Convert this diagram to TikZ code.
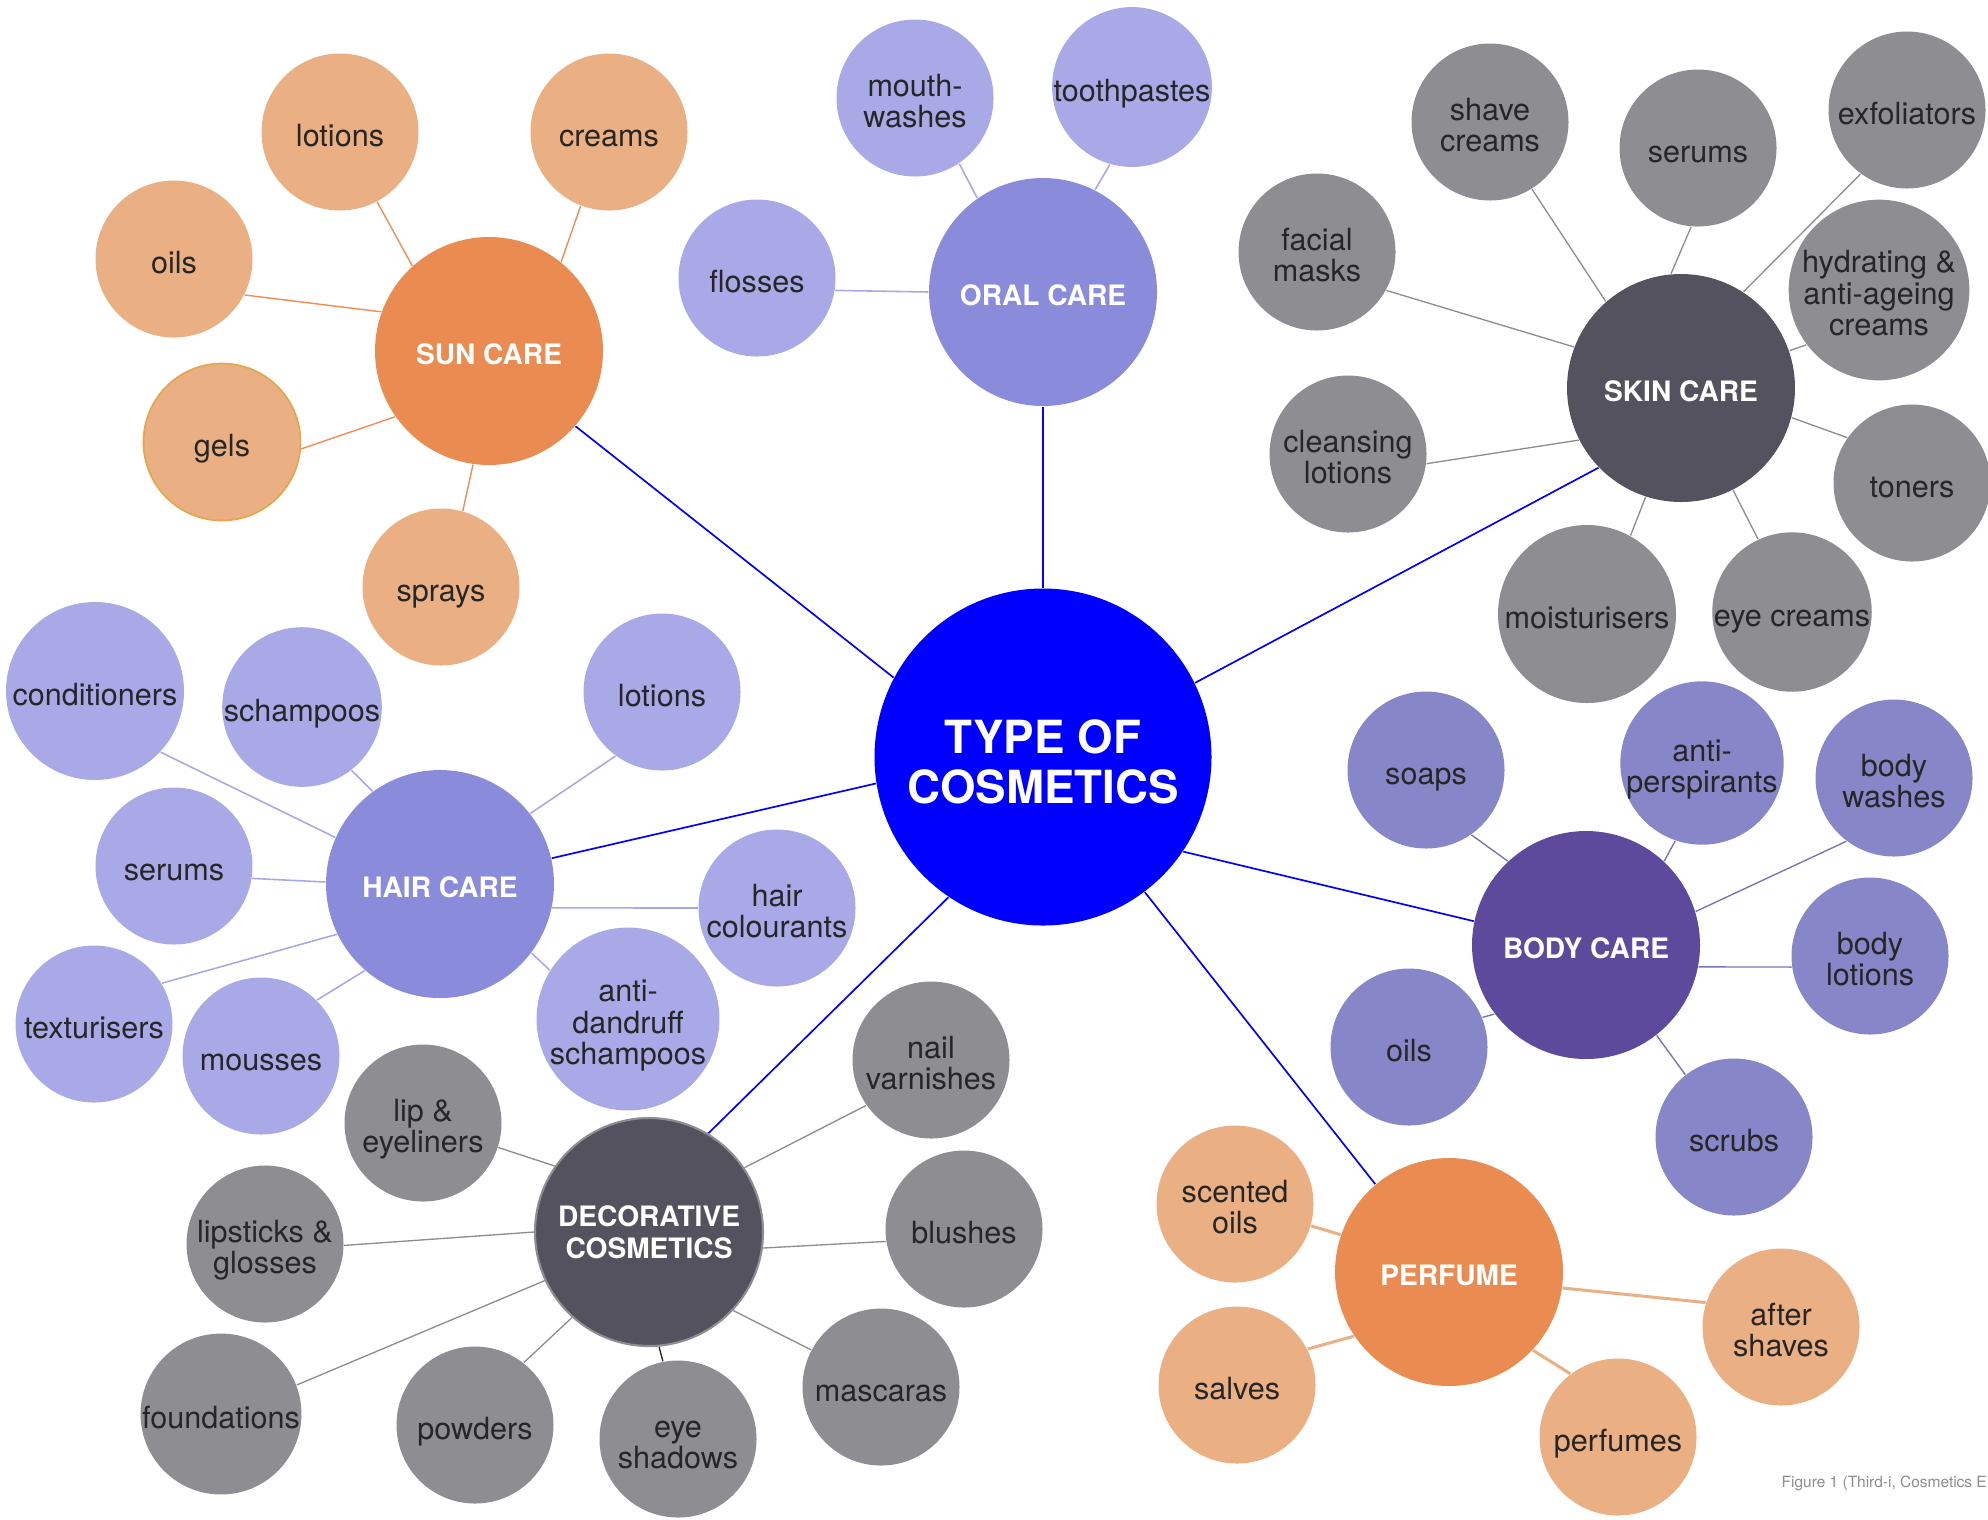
\documentclass[tikz,border=0pt]{standalone}
\usepackage{fontspec}
\setmainfont{TeX Gyre Heros}
\usepackage{array}
\usepackage{tikz}
\usetikzlibrary{backgrounds}
\definecolor{cmcore}{RGB}{0,0,255}
\definecolor{cmsun}{RGB}{234,140,81}
\definecolor{cmsunlf}{RGB}{234,175,131}
\definecolor{cmsunln}{RGB}{240,140,85}
\definecolor{cmgelrim}{RGB}{229,166,80}
\definecolor{cmoral}{RGB}{138,139,219}
\definecolor{cmorallf}{RGB}{168,169,230}
\definecolor{cmskin}{RGB}{85,82,95}
\definecolor{cmskinlf}{RGB}{142,141,146}
\definecolor{cmbody}{RGB}{94,74,156}
\definecolor{cmbodylf}{RGB}{135,134,200}
\definecolor{cmbodyln}{RGB}{120,118,180}
\definecolor{cmnote}{RGB}{140,140,140}
% fixed line boxes, so that descenders do not move the text
\newcommand{\cmstrut}{\rule[-0.5pt]{0pt}{9pt}}
\newcommand{\cmlines}[1]{{\renewcommand{\arraystretch}{0}%
  \begin{tabular}{@{}>{\setbox0=\hbox\bgroup}c<{\egroup\ht0=0pt\dp0=0pt\box0\cmstrut}@{}}#1\end{tabular}}}
\tikzset{
  leaf/.style={
    circle, inner sep=0pt, minimum size=15.7mm,
    font=\fontsize{8.7}{9.2}\selectfont, text=black!85
  },
  bigleaf/.style={leaf, minimum size=17.8mm},
  sunlf/.style={leaf, fill=cmsunlf},
  orallf/.style={leaf, fill=cmorallf},
  skinlf/.style={leaf, fill=cmskinlf},
  bodylf/.style={leaf, fill=cmbodylf},
  hub/.style={
    circle, inner sep=0pt, minimum size=22.8mm, align=center, text=white,
    font=\bfseries\fontsize{8}{9}\selectfont,
    execute at begin node={\rule{0pt}{8pt}}
  },
  core/.style={
    circle, inner sep=0pt, minimum size=33.7mm, text=white,
    fill=cmcore, font=\bfseries\fontsize{13}{14.5}\selectfont,
    execute at begin node={\renewcommand{\cmstrut}{\rule[-1.1pt]{0pt}{14.4pt}}}
  },
  coreln/.style={draw=cmcore, line width=0.48pt},
  sunln/.style={draw=cmsunln, line width=0.4pt},
  perfln/.style={draw=cmsunlf, line width=0.85pt},
  oralln/.style={draw=cmorallf, line width=0.45pt},
  skinln/.style={draw=cmskinlf, line width=0.38pt},
  bodyln/.style={draw=cmbodyln, line width=0.4pt},
  note/.style={font=\fontsize{4.4}{5}\selectfont, text=cmnote, anchor=west, inner sep=0pt}
}
\begin{document}
\begin{tikzpicture}[x=0.1mm, y=-0.1mm]
  \useasboundingbox (0,0) rectangle (1988,1519);
  % centre and main groups
  \node[core] (cosm) at (1043,757) {\cmlines{TYPE OF\\COSMETICS}};
  \node[hub, fill=cmsun] (sun) at (489,351) {SUN CARE};
  \node[hub, fill=cmoral] (oral) at (1043,292) {ORAL CARE};
  \node[hub, fill=cmskin] (skin) at (1681,388) {SKIN CARE};
  \node[hub, fill=cmoral] (hair) at (440,884) {HAIR CARE};
  \node[hub, fill=cmbody] (body) at (1586,945) {BODY CARE};
  \node[hub, fill=cmskin, draw=cmskinlf, line width=0.6pt] (deco) at (649,1232) {DECORATIVE\\COSMETICS};
  \node[hub, fill=cmsun] (perf) at (1449,1272) {PERFUME};
  % sun care
  \node[sunlf] (sunlot) at (340,132) {\cmlines{lotions}};
  \node[sunlf] (suncrm) at (609,132) {\cmlines{creams}};
  \node[sunlf] (sunoil) at (174,259) {\cmlines{oils}};
  \node[sunlf, draw=cmgelrim, line width=0.5pt] (sungel) at (222,442) {\cmlines{gels}};
  \node[sunlf] (sunspr) at (441,587) {\cmlines{sprays}};
  % oral care
  \node[orallf] (ormouth) at (915,98) {\cmlines{mouth-\\washes}};
  \node[orallf] (ortooth) at (1132,87) {\cmlines{toothpastes}};
  \node[orallf] (orfloss) at (757,278) {\cmlines{flosses}};
  % skin care
  \node[skinlf] (skshave) at (1490,122) {\cmlines{shave\\creams}};
  \node[skinlf] (skserum) at (1698,148) {\cmlines{serums}};
  \node[skinlf] (skexfo) at (1907,110) {\cmlines{exfoliators}};
  \node[skinlf] (skmask) at (1317,252) {\cmlines{facial\\masks}};
  \node[skinlf, bigleaf] (skhydr) at (1879,290) {\cmlines{hydrating \&\\anti-ageing\\creams}};
  \node[skinlf] (skclean) at (1348,454) {\cmlines{cleansing\\lotions}};
  \node[skinlf] (sktoner) at (1912,483) {\cmlines{toners}};
  \node[skinlf, bigleaf] (skmoist) at (1587,614) {\cmlines{moisturisers}};
  \node[skinlf] (skeye) at (1792,612) {\cmlines{eye creams}};
  % hair care
  \node[orallf, bigleaf] (hrcond) at (95,691) {\cmlines{conditioners}};
  \node[orallf] (hrsham) at (302,707) {\cmlines{schampoos}};
  \node[orallf] (hrlot) at (662,692) {\cmlines{lotions}};
  \node[orallf] (hrserum) at (174,866) {\cmlines{serums}};
  \node[orallf] (hrcol) at (777,908) {\cmlines{hair\\colourants}};
  \node[orallf] (hrtext) at (94,1024) {\cmlines{texturisers}};
  \node[orallf] (hrmous) at (261,1056) {\cmlines{mousses}};
  \node[orallf, bigleaf] (hrdand) at (628,1019) {\cmlines{anti-\\dandruff\\schampoos}};
  % body care
  \node[bodylf] (bdsoap) at (1426,770) {\cmlines{soaps}};
  \node[bodylf] (bdanti) at (1702,763) {\cmlines{anti-\\perspirants}};
  \node[bodylf] (bdwash) at (1894,778) {\cmlines{body\\washes}};
  \node[bodylf] (bdlot) at (1870,956) {\cmlines{body\\lotions}};
  \node[bodylf] (bdoil) at (1409,1047) {\cmlines{oils}};
  \node[bodylf] (bdscrub) at (1734,1137) {\cmlines{scrubs}};
  % decorative cosmetics
  \node[skinlf] (dcnail) at (931,1060) {\cmlines{nail\\varnishes}};
  \node[skinlf] (dcliner) at (423,1123) {\cmlines{lip \&\\eyeliners}};
  \node[skinlf] (dcstick) at (265,1244) {\cmlines{lipsticks \&\\glosses}};
  \node[skinlf] (dcblush) at (964,1229) {\cmlines{blushes}};
  \node[skinlf] (dcfound) at (221,1414) {\cmlines{foundations}};
  \node[skinlf] (dcpowd) at (475,1425) {\cmlines{powders}};
  \node[skinlf] (dceye) at (678,1439) {\cmlines{eye\\shadows}};
  \node[skinlf] (dcmasc) at (881,1387) {\cmlines{mascaras}};
  % perfume
  \node[sunlf] (pfoil) at (1235,1204) {\cmlines{scented\\oils}};
  \node[sunlf] (pfsalve) at (1237,1385) {\cmlines{salves}};
  \node[sunlf] (pfafter) at (1781,1327) {\cmlines{after\\shaves}};
  \node[sunlf] (pfperf) at (1618,1437) {\cmlines{perfumes}};
  \node[note] (fignote) at (1781,1483) {Figure 1 (Third-i, Cosmetics E};
  % connectors: hub angle / leaf angle
  \begin{scope}[on background layer]
    \foreach \g/\a/\b in {sun/152/-41, oral/90/-90, skin/26/-136, hair/-171/13,
                          body/-34/168, deco/-124/59, perf/-53/130}
      \draw[coreln] (cosm.\a) -- (\g.\b);
    \foreach \l/\a/\b in {sunlot/132/-62, suncrm/51/-111, sunoil/160/-27,
                          sungel/-145/-5, sunspr/-98/74}
      \draw[sunln] (sun.\a) -- (\l.\b);
    \foreach \l/\a/\b in {ormouth/125/-56, ortooth/63/-106, orfloss/180/-9}
      \draw[oralln] (oral.\a) -- (\l.\b);
    \foreach \l/\a/\b in {skshave/131/-58, skserum/95/-95, skexfo/57/-126,
                          skmask/159/-29, skhydr/19/-143, skclean/-153/-7,
                          sktoner/-15/145, skmoist/-108/61, skeye/-63/115}
      \draw[skinln] (skin.\a) -- (\l.\b);
    \foreach \l/\a/\b in {hrcond/156/-43, hrsham/126/-52, hrlot/38/-126,
                          hrserum/179/-9, hrcol/-12/180, hrtext/-154/31,
                          hrmous/-131/45, hrdand/-37/148}
      \draw[oralln] (hair.\a) -- (\l.\b);
    \foreach \l/\a/\b in {bdsoap/133/-55, bdanti/47/-109, bdwash/17/-127,
                          bdlot/-11/-172, bdoil/-143/22, bdscrub/-52/128}
      \draw[bodyln] (body.\a) -- (\l.\b);
    \foreach \l/\a/\b in {dcnail/34/-145, dcliner/145/-18, dcstick/180/-1,
                          dcblush/-8/-171, dcfound/-155/21, dcpowd/-132/52,
                          dcmasc/-43/152}
      \draw[skinln] (deco.\a) -- (\l.\b);
    \draw[skinln, draw=black!85] (deco.-85) -- (dceye.101);
    \foreach \l/\a/\b in {pfoil/161/-16, pfsalve/-146/27, pfafter/-8/162,
                          pfperf/-43/127}
      \draw[perfln] (perf.\a) -- (\l.\b);
  \end{scope}
\end{tikzpicture}
\end{document}
